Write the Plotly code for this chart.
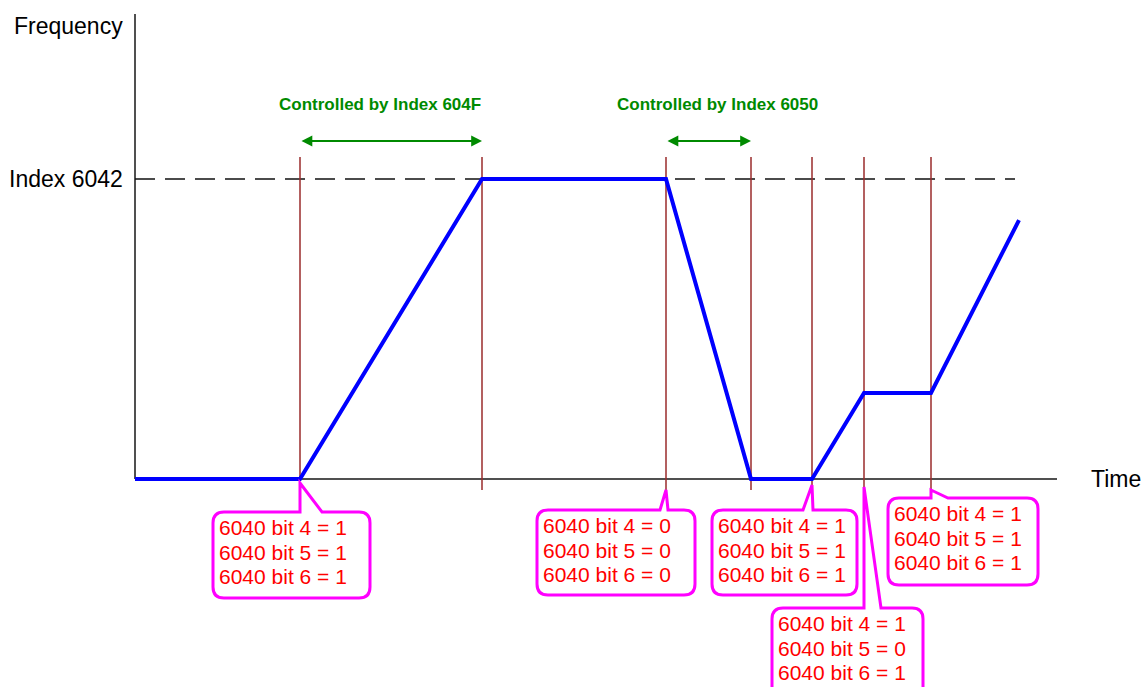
import plotly.graph_objects as go

# ---------------- data ----------------
times = [0, 16.5, 34.7, 53.1, 61.6, 67.7, 72.9, 79.6, 88.4]
freq = [0, 0, 100, 100, 0, 0, 28.7, 28.7, 86.3]
event_times = [16.5, 34.7, 53.1, 61.6, 67.7, 72.9, 79.6]
index_6042 = 100
y_labels = ["Frequency", "Index 6042"]
x_label = "Time"
ctrl_labels = ["Controlled by Index 604F", "Controlled by Index 6050"]
ctrl_spans = [(16.5, 34.7), (53.1, 61.6)]
callout_times = [16.5, 53.1, 67.7, 79.6, 72.9]
callout_texts = [
    ["6040 bit 4 = 1", "6040 bit 5 = 1", "6040 bit 6 = 1"],
    ["6040 bit 4 = 0", "6040 bit 5 = 0", "6040 bit 6 = 0"],
    ["6040 bit 4 = 1", "6040 bit 5 = 1", "6040 bit 6 = 1"],
    ["6040 bit 4 = 1", "6040 bit 5 = 1", "6040 bit 6 = 1"],
    ["6040 bit 4 = 1", "6040 bit 5 = 0", "6040 bit 6 = 1"],
]

# ---------------- layout helpers ----------------
W, H = 1142, 687
X0PX, Y0PX, XS, YS = 135, 479, 10.0, 3.0   # pixel origin and px per unit


def px2t(px):
    return (px - X0PX) / XS


def py2f(py):
    return (Y0PX - py) / YS


# callout boxes in pixels: left, top, right, bottom, pointer base x0, x1, tip y
boxes = [
    (213, 512, 370, 598, 300, 322, 483),
    (537, 510, 695, 595, 660, 668, 490),
    (712, 510, 857, 595, 803, 813, 485),
    (888, 498, 1038, 585, 931, 948, 490),
    (772, 608, 923, 700, 864, 881, 487),
]

fig = go.Figure()

shapes = []
shapes.append(dict(type="line", x0=0, x1=px2t(1057), y0=0, y1=0,
                   line=dict(color="#505050", width=2), layer="below"))
shapes.append(dict(type="line", x0=0, x1=0, y0=py2f(14), y1=0,
                   line=dict(color="#505050", width=2), layer="below"))
shapes.append(dict(type="line", x0=0, x1=px2t(1015), y0=index_6042, y1=index_6042,
                   line=dict(color="#111111", width=1.5, dash="20px,10px"), layer="below"))
for i, t in enumerate(event_times):
    ybot = 0 if i == 0 else py2f(490)
    shapes.append(dict(type="line", x0=t, x1=t, y0=py2f(157), y1=ybot,
                       line=dict(color="#9a2b2b", width=1.5), layer="below"))


def fmt(px, py):
    return f"{px2t(px):.4f},{py2f(py):.4f}"


for (L, T, R, B, b0, b1, tipy), tt in zip(boxes, callout_times):
    r = 11
    tipx = X0PX + tt * XS
    p = (f"M{fmt(L + r, T)} L{fmt(b0, T)} L{fmt(tipx, tipy)} L{fmt(b1, T)} "
         f"L{fmt(R - r, T)} Q{fmt(R, T)} {fmt(R, T + r)} L{fmt(R, B - r)} "
         f"Q{fmt(R, B)} {fmt(R - r, B)} L{fmt(L + r, B)} Q{fmt(L, B)} {fmt(L, B - r)} "
         f"L{fmt(L, T + r)} Q{fmt(L, T)} {fmt(L + r, T)} Z")
    shapes.append(dict(type="path", path=p, fillcolor="white",
                       line=dict(color="#ff00ff", width=3), layer="above"))

fig.add_trace(go.Scatter(x=times, y=freq, mode="lines",
                         line=dict(color="#0000ff", width=4), hoverinfo="skip"))

annotations = []
for (L, T, R, B, b0, b1, tipy), lines in zip(boxes, callout_texts):
    for k, line in enumerate(lines):
        annotations.append(dict(x=px2t(L + 4), y=py2f(T + 15.5 + 24.5 * k),
                                xanchor="left", yanchor="middle",
                                text=line, showarrow=False, align="left",
                                font=dict(family="Liberation Sans, Arial", size=21,
                                          color="#ff0000")))

annotations.append(dict(x=px2t(125), y=py2f(26), xanchor="right", yanchor="middle",
                        text=y_labels[0], showarrow=False,
                        font=dict(family="Liberation Sans, Arial", size=23, color="black")))
annotations.append(dict(x=px2t(125), y=index_6042, xanchor="right", yanchor="middle",
                        text=y_labels[1], showarrow=False,
                        font=dict(family="Liberation Sans, Arial", size=23, color="black")))
annotations.append(dict(x=px2t(1089), y=0, xanchor="left", yanchor="middle",
                        text=x_label, showarrow=False,
                        font=dict(family="Liberation Sans, Arial", size=23, color="black")))

label_centers_px = [380, 717]
for (a, b), lab, cpx in zip(ctrl_spans, ctrl_labels, label_centers_px):
    yarr = py2f(141)
    annotations.append(dict(x=b, y=yarr, ax=a, ay=yarr, axref="x", ayref="y",
                            xref="x", yref="y", text="", showarrow=True,
                            arrowhead=2, arrowsize=1.2, arrowwidth=1.8,
                            arrowside="end+start", arrowcolor="#008a00"))
    annotations.append(dict(x=px2t(cpx), y=py2f(104), text="<b>" + lab + "</b>",
                            showarrow=False, xanchor="center", yanchor="middle",
                            font=dict(family="Liberation Sans, Arial",
                                      size=17, color="#008a00")))

fig.update_layout(
    width=W, height=H,
    margin=dict(l=0, r=0, t=0, b=0),
    paper_bgcolor="white", plot_bgcolor="white",
    showlegend=False,
    shapes=shapes, annotations=annotations,
    xaxis=dict(range=[px2t(0), px2t(W)], visible=False, fixedrange=True),
    yaxis=dict(range=[py2f(H), py2f(0)], visible=False, fixedrange=True),
)

fig.write_html("out.html", config={"displayModeBar": False},
               post_script="document.body.style.margin='0px';document.body.style.overflow='hidden';")
